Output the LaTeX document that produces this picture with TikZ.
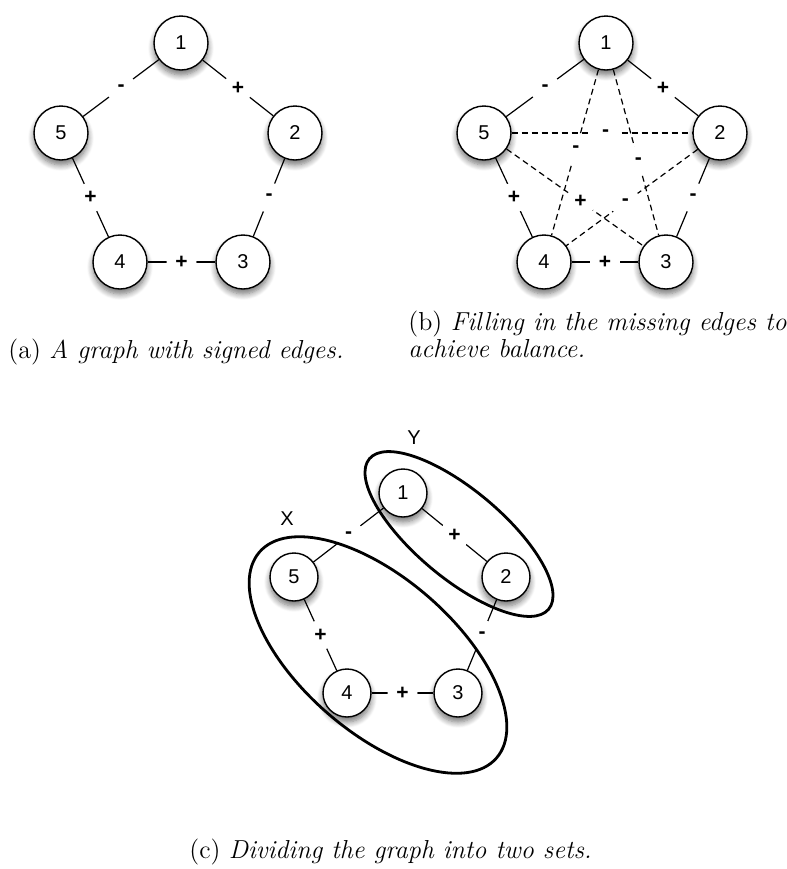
\documentclass[tikz,border=0pt]{standalone}
\usepackage{fontspec}
\setsansfont{Liberation Sans}
\usetikzlibrary{shadows.blur}

\begin{document}
\begin{tikzpicture}[x=0.5pt, y=-0.5pt,
  vertex/.style = {circle, draw, line width=0.7pt, fill=white, minimum size=27pt, inner sep=0pt,
    font=\sffamily\fontsize{10}{10}\selectfont,
    blur shadow={shadow xshift=0pt, shadow yshift=-2.5pt, shadow blur steps=8, shadow blur radius=3pt, shadow opacity=55}},
  small vertex/.style = {vertex, minimum size=24pt},
  sign/.style = {circle, fill=white, inner sep=0pt, minimum size=15pt, font=\sffamily\bfseries\fontsize{10.5}{10.5}\selectfont},
  edge/.style = {line width=0.6pt},
  missing/.style = {edge, dash pattern=on 3pt off 2pt},
  set/.style = {line width=1.4pt},
  setname/.style = {font=\sffamily\fontsize{10}{10}\selectfont},
  caption/.style = {anchor=base west, inner sep=0pt, align=left, font=\fontsize{13}{11.7}\selectfont}]

  \useasboundingbox (0,0) rectangle (787,869);

  % (a) signed edges
  \node[vertex] (a1) at (181,43) {1};
  \node[vertex] (a2) at (295,133) {2};
  \node[vertex] (a3) at (243,262) {3};
  \node[vertex] (a4) at (120,262) {4};
  \node[vertex] (a5) at (61,133) {5};

  \draw[edge] (a1) -- node[sign] {-} (a5);
  \draw[edge] (a1) -- node[sign] {+} (a2);
  \draw[edge] (a5) -- node[sign] {+} (a4);
  \draw[edge] (a2) -- node[sign] {-} (a3);
  \draw[edge] (a4) -- node[sign] {+} (a3);

  \node[caption] (capa) at (8,358) {(a) \textit{A graph with signed edges.}};

  % (b) missing edges filled in
  \node[vertex] (b1) at (606,43) {1};
  \node[vertex] (b2) at (720,133) {2};
  \node[vertex] (b3) at (666,262) {3};
  \node[vertex] (b4) at (544,262) {4};
  \node[vertex] (b5) at (484,133) {5};

  \draw[edge] (b1) -- node[sign] {-} (b5);
  \draw[edge] (b1) -- node[sign] {+} (b2);
  \draw[edge] (b5) -- node[sign] {+} (b4);
  \draw[edge] (b2) -- node[sign] {-} (b3);
  \draw[edge] (b4) -- node[sign] {+} (b3);

  \draw[missing] (b5) -- node[sign, pos=0.52] {-} (b2);
  \draw[missing] (b1) -- node[sign, pos=0.48] {-} (b4);
  \draw[missing] (b1) -- node[sign, pos=0.55] {-} (b3);
  \draw[missing] (b5) -- node[sign, pos=0.54] {+} (b3);
  \draw[missing] (b2) -- node[sign, pos=0.55] {-} (b4);

  \node[caption] (capb) at (408,357) {(b) \textit{Filling in the missing edges to}\\\textit{achieve balance.}};

  % (c) two sets
  \node[small vertex] (c1) at (403,493) {1};
  \node[small vertex] (c2) at (506,577) {2};
  \node[small vertex] (c3) at (458,693) {3};
  \node[small vertex] (c4) at (347,693) {4};
  \node[small vertex] (c5) at (294,577) {5};

  \draw[edge] (c1) -- node[sign] {-} (c5);
  \draw[edge] (c1) -- node[sign] {+} (c2);
  \draw[edge] (c5) -- node[sign] {+} (c4);
  \draw[edge] (c2) -- node[sign] {-} (c3);
  \draw[edge] (c4) -- node[sign] {+} (c3);

  \draw[set, rotate around={-40:(459,534)}] (459,534) ellipse (117 and 44);
  \draw[set, rotate around={-41:(378,655)}] (378,655) ellipse (157 and 77);
  \node[setname] (Y) at (414,438) {Y};
  \node[setname] (X) at (287,519) {X};

  \node[caption] (capc) at (189,858) {(c) \textit{Dividing the graph into two sets.}};
\end{tikzpicture}
\end{document}
